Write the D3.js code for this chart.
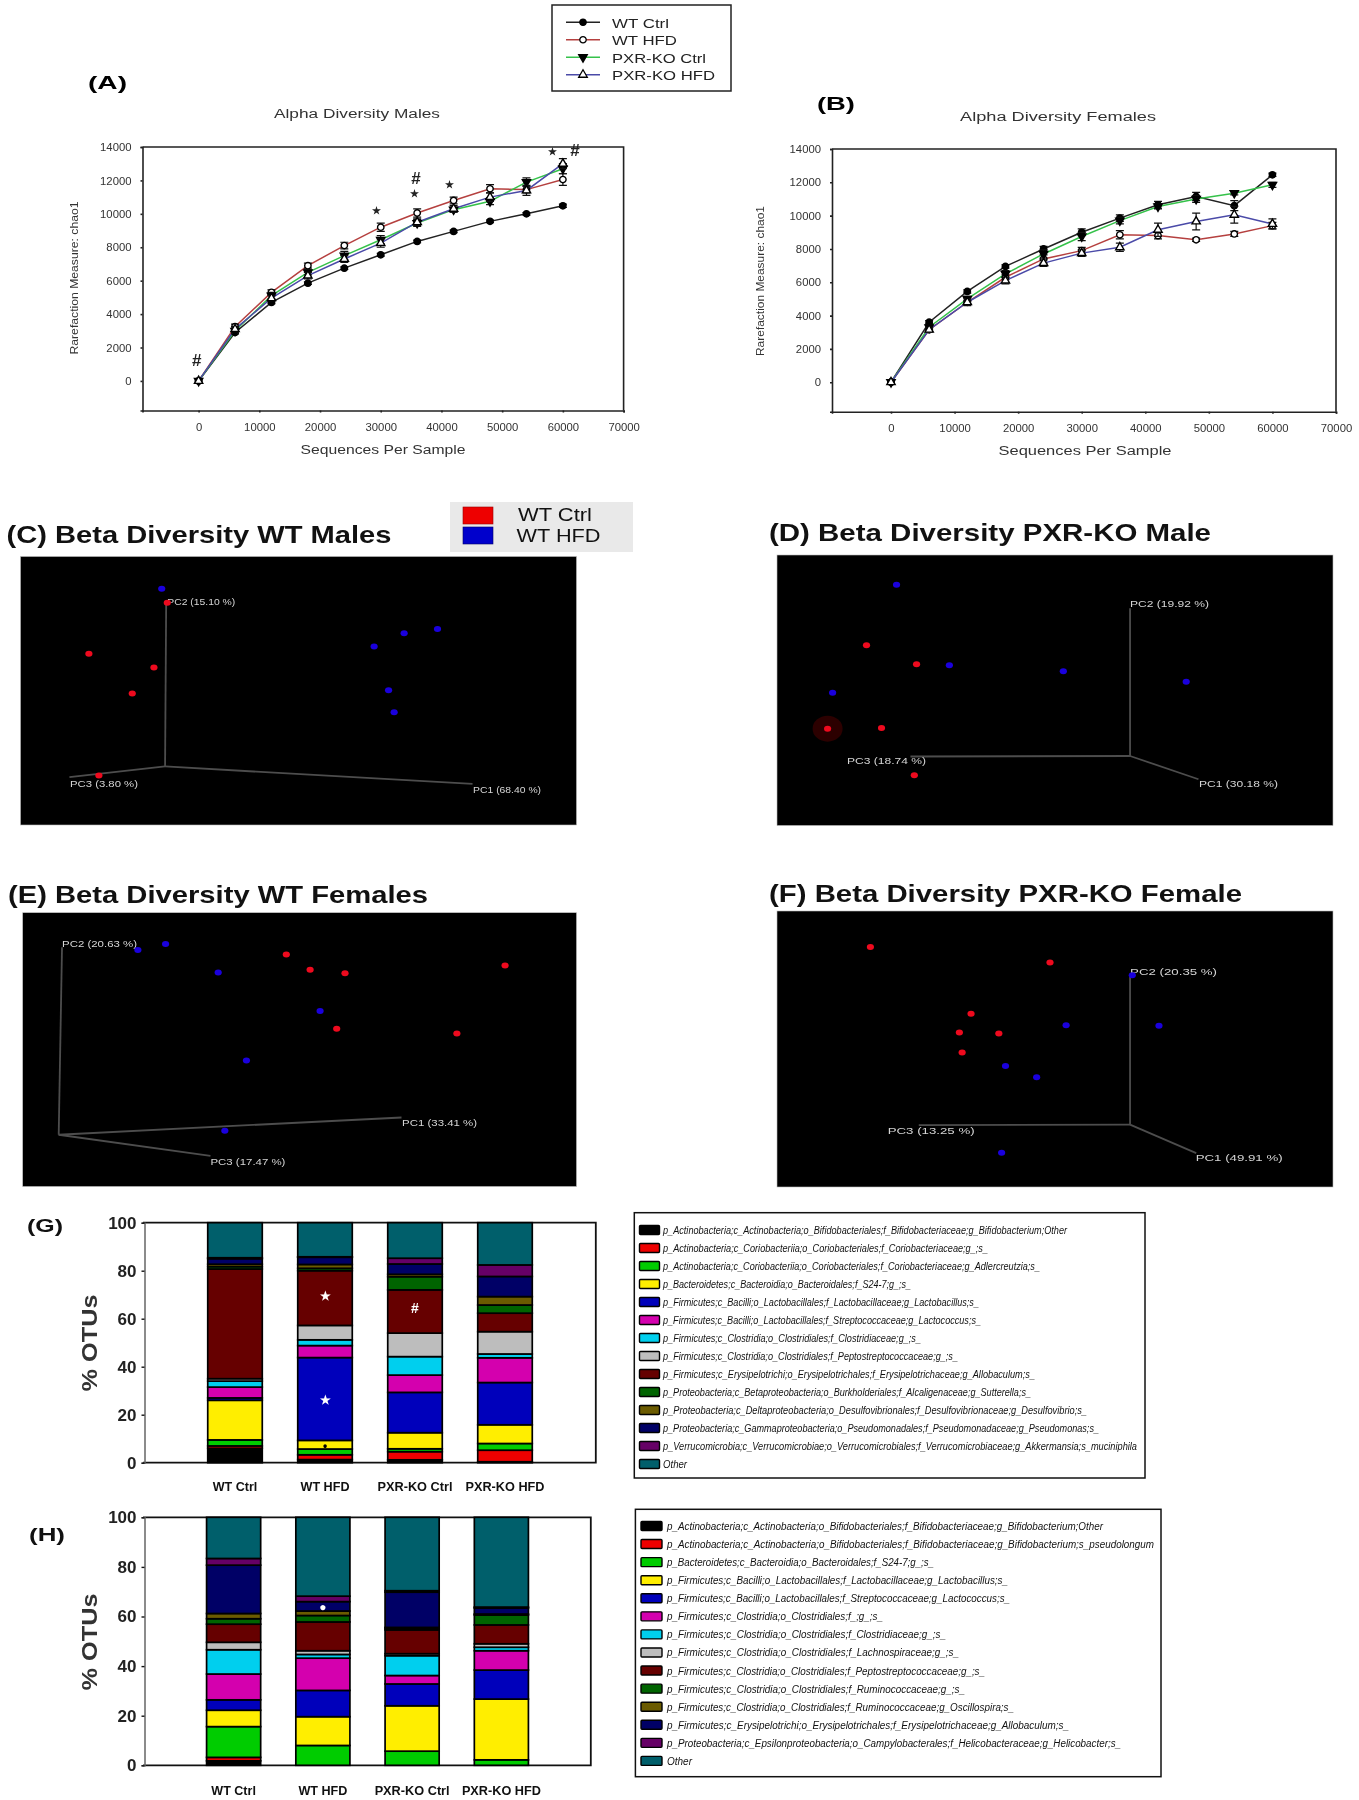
<!DOCTYPE html>
<html><head><meta charset="utf-8">
<script src="https://cdn.jsdelivr.net/npm/d3@7/dist/d3.min.js"></script>
<style>html,body{margin:0;padding:0;background:#fff}svg{display:block;filter:blur(0.6px)}text{font-family:"Liberation Sans",Arial,sans-serif}</style>
</head><body><svg id="fig" width="1359" height="1800"></svg>
<script>
// ---------- Alpha diversity data ----------
const seqDepths=[0,6000,12000,18000,24000,30000,36000,42000,48000,54000,60000];
const groupNames=["WT Ctrl","WT HFD","PXR-KO Ctrl","PXR-KO HFD"];
const maleWtCtrl=[0,2900,4700,5850,6750,7550,8350,8950,9550,10000,10480];
const maleWtHfd=[0,3250,5300,6900,8100,9200,10050,10800,11500,11450,12050];
const malePxrCtrl=[0,3000,5100,6500,7500,8450,9450,10250,10750,11900,12700];
const malePxrHfd=[0,3100,4950,6300,7300,8250,9500,10300,11000,11400,13000];
const maleErrWtCtrl=[0,80,80,80,80,80,80,80,80,80,100];
const maleErrWtHfd=[0,150,150,150,200,250,250,200,250,200,350];
const maleErrPxrCtrl=[0,150,200,150,250,250,200,150,200,250,300];
const maleErrPxrHfd=[0,150,150,200,200,250,200,200,250,300,300];
const femaleWtCtrl=[0,3600,5450,6950,8000,9000,9850,10650,11150,10600,12450];
const femaleWtHfd=[0,3150,4800,6300,7400,7900,8850,8800,8550,8900,9400];
const femalePxrCtrl=[0,3300,5000,6500,7700,8750,9700,10550,11000,11350,11850];
const femalePxrHfd=[0,3150,4800,6100,7150,7750,8100,9150,9650,10050,9500];
const femaleErrWtCtrl=[0,100,100,100,150,200,200,200,250,300,100];
const femaleErrWtHfd=[0,100,100,150,250,200,250,200,100,150,200];
const femaleErrPxrCtrl=[0,150,150,200,250,250,200,150,200,100,150];
const femaleErrPxrHfd=[0,150,200,200,200,200,250,400,500,500,300];
const maleMarks=[[-300,1216,"#"],[29300,10170,"★"],[35800,12125,"#"],[35500,11190,"★"],[41300,11770,"★"],[58300,13720,"★"],[62000,13780,"#"]];
const yTicksAlpha=[0,2000,4000,6000,8000,10000,12000,14000];
const xTicksAlpha=[0,10000,20000,30000,40000,50000,60000,70000];

// ---------- Beta diversity (PCoA positions as % of the panel) ----------
const wtMaleCtrl=[[12.3,36.2],[24.0,41.3],[20.1,51.0],[14.1,81.6],[26.4,17.2]];
const wtMaleHfd=[[25.4,12.0],[63.6,33.5],[69.0,28.6],[75.0,27.0],[66.2,49.8],[67.2,58.0]];
const koMaleCtrl=[[16.1,33.4],[25.1,40.4],[9.1,64.2],[18.8,64.0],[24.7,81.4]];
const koMaleHfd=[[21.5,11.0],[31.0,40.8],[51.5,43.0],[73.6,46.9],[10.0,50.9]];
const wtFemaleCtrl=[[47.6,15.3],[51.9,20.8],[58.2,22.1],[56.7,42.4],[78.4,44.1],[87.1,19.3]];
const wtFemaleHfd=[[20.8,13.6],[25.8,11.4],[35.3,21.8],[53.7,35.9],[40.4,54.0],[36.5,79.6]];
const koFemaleCtrl=[[16.8,13.0],[49.1,18.7],[34.9,37.2],[32.8,44.0],[39.9,44.4],[33.3,51.3]];
const koFemaleHfd=[[63.9,23.3],[52.0,41.4],[68.7,41.6],[41.1,56.2],[46.7,60.2],[40.4,87.6]];

// ---------- Taxa composition ----------
const taxaColors=["#000000","#ee0000","#00cc00","#ffee00","#0000bb","#d400ae","#00cfee","#bdbdbd","#660000","#006400","#6b5b00","#000066","#660066","#005f6b"];
const gTaxa=["p_Actinobacteria;c_Actinobacteria;o_Bifidobacteriales;f_Bifidobacteriaceae;g_Bifidobacterium;Other","p_Actinobacteria;c_Coriobacteriia;o_Coriobacteriales;f_Coriobacteriaceae;g_;s_","p_Actinobacteria;c_Coriobacteriia;o_Coriobacteriales;f_Coriobacteriaceae;g_Adlercreutzia;s_","p_Bacteroidetes;c_Bacteroidia;o_Bacteroidales;f_S24-7;g_;s_","p_Firmicutes;c_Bacilli;o_Lactobacillales;f_Lactobacillaceae;g_Lactobacillus;s_","p_Firmicutes;c_Bacilli;o_Lactobacillales;f_Streptococcaceae;g_Lactococcus;s_","p_Firmicutes;c_Clostridia;o_Clostridiales;f_Clostridiaceae;g_;s_","p_Firmicutes;c_Clostridia;o_Clostridiales;f_Peptostreptococcaceae;g_;s_","p_Firmicutes;c_Erysipelotrichi;o_Erysipelotrichales;f_Erysipelotrichaceae;g_Allobaculum;s_","p_Proteobacteria;c_Betaproteobacteria;o_Burkholderiales;f_Alcaligenaceae;g_Sutterella;s_","p_Proteobacteria;c_Deltaproteobacteria;o_Desulfovibrionales;f_Desulfovibrionaceae;g_Desulfovibrio;s_","p_Proteobacteria;c_Gammaproteobacteria;o_Pseudomonadales;f_Pseudomonadaceae;g_Pseudomonas;s_","p_Verrucomicrobia;c_Verrucomicrobiae;o_Verrucomicrobiales;f_Verrucomicrobiaceae;g_Akkermansia;s_muciniphila","Other"];
const hTaxa=["p_Actinobacteria;c_Actinobacteria;o_Bifidobacteriales;f_Bifidobacteriaceae;g_Bifidobacterium;Other","p_Actinobacteria;c_Actinobacteria;o_Bifidobacteriales;f_Bifidobacteriaceae;g_Bifidobacterium;s_pseudolongum","p_Bacteroidetes;c_Bacteroidia;o_Bacteroidales;f_S24-7;g_;s_","p_Firmicutes;c_Bacilli;o_Lactobacillales;f_Lactobacillaceae;g_Lactobacillus;s_","p_Firmicutes;c_Bacilli;o_Lactobacillales;f_Streptococcaceae;g_Lactococcus;s_","p_Firmicutes;c_Clostridia;o_Clostridiales;f_;g_;s_","p_Firmicutes;c_Clostridia;o_Clostridiales;f_Clostridiaceae;g_;s_","p_Firmicutes;c_Clostridia;o_Clostridiales;f_Lachnospiraceae;g_;s_","p_Firmicutes;c_Clostridia;o_Clostridiales;f_Peptostreptococcaceae;g_;s_","p_Firmicutes;c_Clostridia;o_Clostridiales;f_Ruminococcaceae;g_;s_","p_Firmicutes;c_Clostridia;o_Clostridiales;f_Ruminococcaceae;g_Oscillospira;s_","p_Firmicutes;c_Erysipelotrichi;o_Erysipelotrichales;f_Erysipelotrichaceae;g_Allobaculum;s_","p_Proteobacteria;c_Epsilonproteobacteria;o_Campylobacterales;f_Helicobacteraceae;g_Helicobacter;s_","Other"];
const gWtCtrl=[6,1,2.5,16.5,1,4.5,2.5,1,45.7,1,1,2.3,.4,14.6];
const gWtHfd=[1.3,2,2.4,3.6,34.5,5,2.4,6,22.8,1,1.6,3,.2,14.2];
const gPxrCtrl=[1.2,3.4,1.2,6.7,16.8,7.2,7.7,9.8,18,5.5,1,4.3,2.4,14.8];
const gPxrHfd=[.4,4.8,2.8,7.8,17.6,10.3,1.6,9.3,7.7,3.4,3.5,8.4,4.8,17.6];
const hWtCtrl=[1.8,1.4,12.4,6.6,4.2,10.4,9.8,3,7.3,2.2,2.1,19.5,2.7,16.6];
const hWtHfd=[0,0,8,11.6,10.6,13,1.5,1.5,11.6,2.6,1.8,3.8,2.2,31.8];
const hPxrCtrl=[0,0,5.7,18.3,8.8,3.4,8,.8,9.6,.6,.4,14.2,.6,29.6];
const hPxrHfd=[0,0,2.2,24.5,11.7,7.8,1.4,1.4,7.6,4,.4,2.4,.4,36.2];
const gMarks=[["WT HFD",69.6,"★","#fff"],["WT HFD",26,"★","#fff"],["PXR-KO Ctrl",64.3,"#","#fff"],["WT HFD",7,"•","#000"]];
const hMarks=[["WT HFD",64,"●","#fff"]];
const yTicksOtu=[0,20,40,60,80,100];

const svg=d3.select("#fig");
const FIT=(sel,w)=>sel.attr("textLength",w).attr("lengthAdjust","spacingAndGlyphs");

function label(x,y,t,opt={}){
  const s=svg.append("text").attr("x",x).attr("y",y).attr("dominant-baseline","central")
    .attr("text-anchor",opt.anchor||"start").attr("font-size",opt.size||12)
    .attr("font-weight",opt.weight||"normal").attr("fill",opt.fill||"#111").text(t);
  if(opt.style) s.attr("font-style",opt.style);
  if(opt.w) FIT(s,opt.w);
  if(opt.rot!=null) s.attr("transform",`rotate(${opt.rot} ${x} ${y})`);
  return s;
}

// ---------- Line panels ----------
const markers=[
 {type:d3.symbolCircle,fill:"#000",rot:0,line:"#222"},
 {type:d3.symbolCircle,fill:"#fff",rot:0,line:"#b5403f"},
 {type:d3.symbolTriangle,fill:"#000",rot:180,line:"#35c24a"},
 {type:d3.symbolTriangle,fill:"#fff",rot:0,line:"#4a4aa8"}];

function alphaPanel(p){
  const x=d3.scaleLinear().domain([p.xMin,70000]).range([p.l,p.r]);
  const y=d3.scaleLinear().domain([p.yMin,14000]).range([p.b,p.t]);
  const g=svg.append("g");
  const ax=g.append("g").attr("transform",`translate(0,${p.b})`).call(d3.axisBottom(x).tickValues(xTicksAlpha).tickFormat(d3.format("d")).tickSize(2).tickPadding(10));
  const ay=g.append("g").attr("transform",`translate(${p.l},0)`).call(d3.axisLeft(y).tickValues(yTicksAlpha).tickFormat(d3.format("d")).tickSize(2).tickPadding(9));
  [ax,ay].forEach(a=>{a.selectAll("text").attr("font-size",11.3).attr("fill","#333").style("font-family","'Liberation Sans',Arial,sans-serif");a.selectAll("line,path").attr("stroke","#222").attr("stroke-width",1.6);});
  g.append("path").attr("d",`M${p.l},${p.t}H${p.r}V${p.b}`).attr("fill","none").attr("stroke","#222").attr("stroke-width",1.6);
  const line=d3.line().x((d,i)=>x(seqDepths[i])).y(d=>y(d));
  p.series.forEach((vals,k)=>{
    const m=markers[k];
    g.append("path").datum(vals).attr("d",line).attr("fill","none").attr("stroke",m.line).attr("stroke-width",1.5);
  });
  p.series.forEach((vals,k)=>{
    const m=markers[k],errs=p.errs[k];
    vals.forEach((v,i)=>{
      if(errs[i]>0){
        const cx=x(seqDepths[i]),y0=y(v-errs[i]),y1=y(v+errs[i]);
        g.append("path").attr("d",`M${cx},${y0}V${y1}M${cx-4},${y0}h8M${cx-4},${y1}h8`).attr("stroke","#111").attr("stroke-width",1.2).attr("fill","none");
      }
    });
    g.selectAll(null).data(vals).join("path")
      .attr("d",d3.symbol().type(m.type).size(m.type===d3.symbolCircle?32:30))
      .attr("transform",(d,i)=>`translate(${x(seqDepths[i])},${y(d)}) rotate(${m.rot})`)
      .attr("fill",m.fill).attr("stroke","#000").attr("stroke-width",1.4);
  });
  (p.marks||[]).forEach(d=>{
    const big=d[2]==="#";
    g.append("text").attr("x",x(d[0])).attr("y",y(d[1])).attr("text-anchor","middle").attr("dominant-baseline","central")
      .attr("font-size",big?17:10).attr("font-weight","bold").attr("fill","#222").text(d[2]);
  });
  label(p.titleX,p.titleY,p.title,{anchor:"middle",size:12.5,w:p.titleW,fill:"#333"});
  label(p.xlabX,p.xlabY,"Sequences Per Sample",{anchor:"middle",size:12.5,w:p.xlabW,fill:"#333"});
  label(p.ylabX,p.ylabY,"Rarefaction Measure: chao1",{anchor:"middle",size:11.5,w:p.ylabW,rot:-90,fill:"#333"});
}
alphaPanel({l:142.5,r:623.6,t:147,b:410.5,xMin:-9240,yMin:-1770,series:[maleWtCtrl,maleWtHfd,malePxrCtrl,malePxrHfd],errs:[maleErrWtCtrl,maleErrWtHfd,maleErrPxrCtrl,maleErrPxrHfd],marks:maleMarks,title:"Alpha Diversity Males",titleX:357,titleY:114,titleW:166,xlabX:383,xlabY:450,xlabW:165,ylabX:74,ylabY:278,ylabW:153});
alphaPanel({l:832,r:1336,t:149,b:411.7,xMin:-9280,yMin:-1770,series:[femaleWtCtrl,femaleWtHfd,femalePxrCtrl,femalePxrHfd],errs:[femaleErrWtCtrl,femaleErrWtHfd,femaleErrPxrCtrl,femaleErrPxrHfd],title:"Alpha Diversity Females",titleX:1058,titleY:117,titleW:196,xlabX:1085,xlabY:451,xlabW:173,ylabX:760,ylabY:281,ylabW:150});

// top legend
svg.append("rect").attr("x",552).attr("y",5).attr("width",179).attr("height",86).attr("fill","#fff").attr("stroke","#222").attr("stroke-width",1.5);
const legW=[57,65,94,103];
groupNames.forEach((n,i)=>{
  const yy=d3.scaleBand().domain(groupNames).range([13.5,83.5])(n)+8.75;
  svg.append("line").attr("x1",566).attr("x2",600).attr("y1",yy).attr("y2",yy).attr("stroke",markers[i].line).attr("stroke-width",1.6);
  svg.append("path").attr("d",d3.symbol().type(markers[i].type).size(32)).attr("transform",`translate(583,${yy}) rotate(${markers[i].rot})`).attr("fill",markers[i].fill).attr("stroke","#000").attr("stroke-width",1.3);
  label(612,yy+1,n,{size:13,w:legW[i],fill:"#222"});
});
label(88,82,"(A)",{size:19,weight:"bold",w:39,fill:"#000"});
label(817,103,"(B)",{size:19,weight:"bold",w:38,fill:"#000"});

// ---------- Beta panels ----------
function betaPanel(p){
  const x=d3.scaleLinear().domain([0,100]).range([p.l,p.r]);
  const y=d3.scaleLinear().domain([0,100]).range([p.t,p.b]);
  const g=svg.append("g");
  g.append("rect").attr("x",p.l).attr("y",p.t).attr("width",p.r-p.l).attr("height",p.b-p.t).attr("fill","#000").attr("stroke","#bbb").attr("stroke-width",.6);
  p.axes.forEach(e=>g.append("line").attr("x1",x(p.origin[0])).attr("y1",y(p.origin[1])).attr("x2",x(e[0])).attr("y2",y(e[1])).attr("stroke","#4d4d4d").attr("stroke-width",1.8));
  p.labels.forEach(t=>FIT(g.append("text").attr("x",x(t[0])).attr("y",y(t[1])).attr("dominant-baseline","central").attr("font-size",9).attr("fill","#d5d5d5").text(t[2]),p.labW));
  (p.halos||[]).forEach(d=>{
    g.append("ellipse").attr("cx",x(d[0])).attr("cy",y(d[1])).attr("rx",15).attr("ry",13).attr("fill","#4a0000").attr("opacity",.6);
  });
  [[p.red,"#ee0a1e"],[p.blue,"#1a00dd"]].forEach(([pts,c])=>{
    g.selectAll(null).data(pts).join("ellipse").attr("cx",d=>x(d[0])).attr("cy",d=>y(d[1])).attr("rx",3.6).attr("ry",3).attr("fill",c);
  });
  label(p.tx,p.ty,p.title,{size:24,weight:"bold",w:p.tw,fill:"#111"});
}
betaPanel({l:20.5,r:576.5,t:556.5,b:825,labW:68,red:wtMaleCtrl,blue:wtMaleHfd,origin:[26,78.2],axes:[[26.2,17.6],[8.8,82.2],[81.3,84.7]],labels:[[26.4,17.1,"PC2 (15.10 %)"],[8.9,84.8,"PC3 (3.80 %)"],[81.4,87.1,"PC1 (68.40 %)"]],title:"(C) Beta Diversity WT Males",tx:6.5,ty:534,tw:385});
betaPanel({l:777,r:1333,t:555,b:825.5,labW:79,red:koMaleCtrl,blue:koMaleHfd,halos:[[9.1,64.2]],origin:[63.5,74.3],axes:[[63.5,19.7],[24,74.5],[75.8,82.9]],labels:[[63.5,18.1,"PC2 (19.92 %)"],[12.6,76.2,"PC3 (18.74 %)"],[75.9,84.7,"PC1 (30.18 %)"]],title:"(D) Beta Diversity PXR-KO Male",tx:769,ty:532,tw:442});
betaPanel({l:22.7,r:576.5,t:912.7,b:1186.5,labW:75,red:wtFemaleCtrl,blue:wtFemaleHfd,origin:[6.5,81.1],axes:[[7.1,12.6],[68.4,74.8],[33.9,88.8]],labels:[[7.1,11.4,"PC2 (20.63 %)"],[68.5,76.9,"PC1 (33.41 %)"],[33.9,90.9,"PC3 (17.47 %)"]],title:"(E) Beta Diversity WT Females",tx:8,ty:894,tw:420});
betaPanel({l:777,r:1333,t:911,b:1187,labW:87,red:koFemaleCtrl,blue:koFemaleHfd,origin:[63.5,77.4],axes:[[63.5,23.8],[25.5,77.6],[75.4,87.7]],labels:[[63.5,22,"PC2 (20.35 %)"],[19.9,79.6,"PC3 (13.25 %)"],[75.3,89.6,"PC1 (49.91 %)"]],title:"(F) Beta Diversity PXR-KO Female",tx:769,ty:893,tw:473});

// mini legend
svg.append("rect").attr("x",450).attr("y",502).attr("width",183).attr("height",50).attr("fill","#e9e9e9");
svg.append("rect").attr("x",463).attr("y",507).attr("width",30).attr("height",17).attr("fill","#ee0000").attr("stroke","#900").attr("stroke-width",.6);
svg.append("rect").attr("x",463).attr("y",527).attr("width",30).attr("height",17).attr("fill","#0000cc").attr("stroke","#006").attr("stroke-width",.6);
label(518,515,"WT Ctrl",{size:18,w:74,fill:"#111"});
label(516.5,536,"WT HFD",{size:18,w:84,fill:"#111"});

// ---------- Stacked bars ----------
function stackPanel(p){
  const table=groupNames.map((n,i)=>{const o={group:n};p.cols[i].forEach((v,k)=>o[k]=v);return o;});
  const keys=d3.range(taxaColors.length);
  const layers=d3.stack().keys(keys)(table);
  const x=d3.scaleBand().domain(groupNames).range(p.xr).paddingInner(.394).paddingOuter(.197);
  const y=d3.scaleLinear().domain([0,100]).range([p.b,p.t]);
  const g=svg.append("g");
  g.append("path").attr("d",`M${p.l-1.5},${p.t}H${p.r}V${p.b}H${p.l-1.5}`).attr("fill","none").attr("stroke","#111").attr("stroke-width",1.8);
  const ay=g.append("g").attr("transform",`translate(${p.l},0)`).call(d3.axisLeft(y).tickValues(yTicksOtu).tickSize(3).tickPadding(5));
  ay.select(".domain").attr("stroke","#666").attr("stroke-width",1.5);
  ay.selectAll("line").attr("stroke","#111").attr("stroke-width",1.4);
  ay.selectAll("text").attr("font-size",17).attr("font-weight","bold").attr("fill","#222").style("font-family","'Liberation Sans',Arial,sans-serif");
  const seg=g.selectAll(null).data(layers).join("g").attr("fill",(d,i)=>taxaColors[i]);
  seg.selectAll("rect").data(d=>d.filter(s=>s[1]-s[0]>0)).join("rect")
    .attr("x",d=>x(d.data.group)).attr("width",x.bandwidth())
    .attr("y",d=>y(d[1])).attr("height",d=>y(d[0])-y(d[1]))
    .attr("stroke","#000").attr("stroke-width",1.7);
  p.marks.forEach(m=>g.append("text").attr("x",x(m[0])+x.bandwidth()/2).attr("y",y(m[1])).attr("text-anchor","middle").attr("dominant-baseline","central").attr("font-size",m[2]==="#"?14:12).attr("font-weight","bold").attr("fill",m[3]).text(m[2]));
  const catW=[44.6,49,75,79];
  groupNames.forEach((n,i)=>label(x(n)+x.bandwidth()/2,p.catY,n,{anchor:"middle",size:13.5,weight:"bold",w:catW[i],fill:"#111"}));
  label(89,p.ylabY,"% OTUs",{anchor:"middle",size:22,weight:"bold",w:97,rot:-90,fill:"#333"});
  label(p.letter[0],p.letter[1],p.letter[2],{size:19,weight:"bold",w:36,fill:"#111"});
  // legend
  const lg=p.leg;
  svg.append("rect").attr("x",lg.l).attr("y",lg.t).attr("width",lg.r-lg.l).attr("height",lg.b-lg.t).attr("fill","#fff").attr("stroke","#111").attr("stroke-width",1.5);
  const rowY=d3.scalePoint().domain(d3.range(14)).range([lg.y0,lg.y0+13*lg.dy]);
  p.taxa.forEach((t,i)=>{
    svg.append("rect").attr("x",lg.sx).attr("y",rowY(i)-4.5).attr("width",lg.sw).attr("height",9).attr("rx",1).attr("fill",taxaColors[i]).attr("stroke","#000").attr("stroke-width",1.4);
    label(lg.tx,rowY(i)+.5,t,{size:10,style:"italic",w:lg.w[i],fill:"#111"});
  });
}
stackPanel({l:144.5,r:595.8,t:1222.7,b:1462.7,xr:[190,550],cols:[gWtCtrl,gWtHfd,gPxrCtrl,gPxrHfd],taxa:gTaxa,marks:gMarks,catY:1486,ylabY:1343,letter:[27,1225,"(G)"],
 leg:{l:634.3,r:1145,t:1212.7,b:1478,y0:1230,dy:18,sx:639.5,sw:20,tx:663,w:[404,325,377,248,316,318,258,295,372,368,424,436,474,24]}});
stackPanel({l:144.5,r:590.8,t:1517.3,b:1765.3,xr:[189,546],cols:[hWtCtrl,hWtHfd,hPxrCtrl,hPxrHfd],taxa:hTaxa,marks:hMarks,catY:1790,ylabY:1642,letter:[29,1534,"(H)"],
 leg:{l:635.4,r:1161,t:1509.3,b:1776.7,y0:1526,dy:18.07,sx:641,sw:21,tx:667,w:[436,487,267,341,343,216,279,292,318,298,347,402,454,25]}});
</script></body></html>
